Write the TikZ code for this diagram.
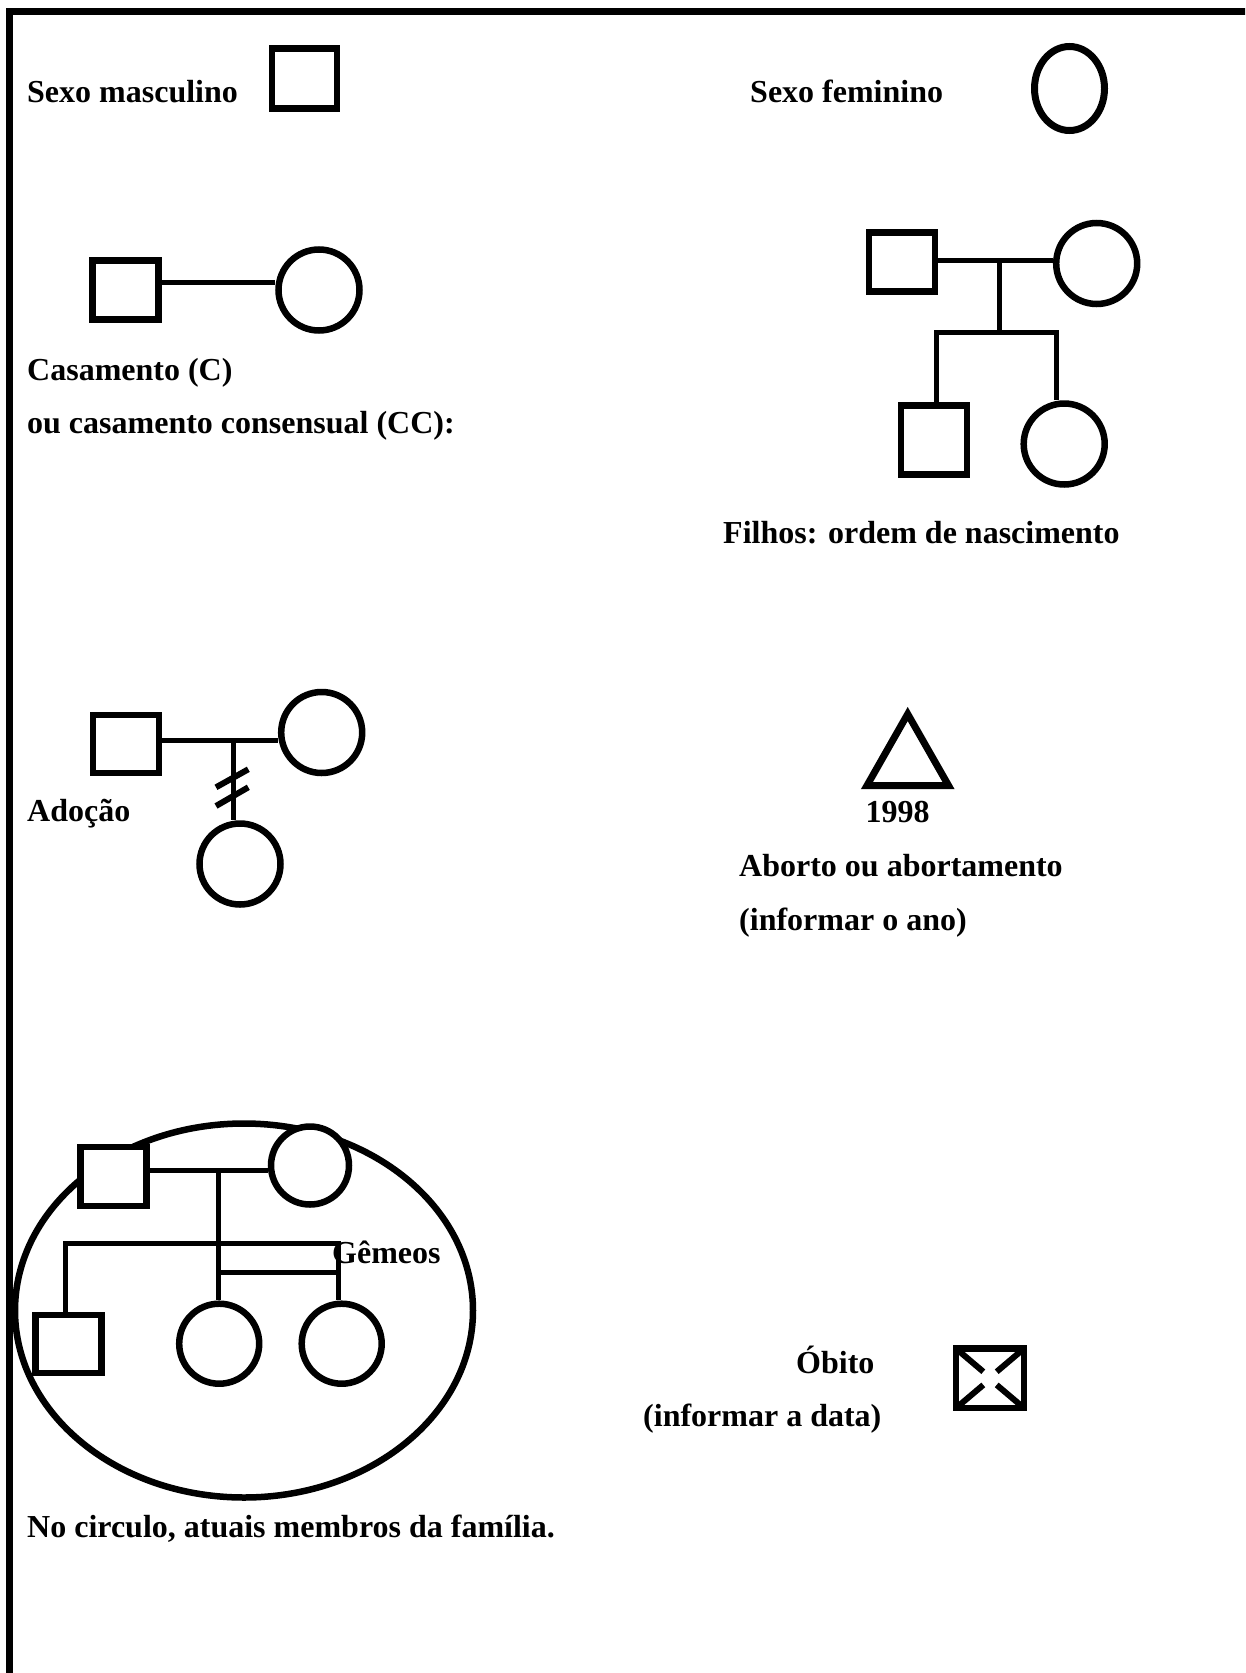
\documentclass[tikz,border=0pt]{standalone}
\usepackage{fontspec}
\setmainfont{Liberation Serif}
\usetikzlibrary{shapes.geometric}
\begin{document}
\begin{tikzpicture}[x=1pt,y=-1pt,
  shp/.style={draw=black, fill=white, line width=6.5pt, inner sep=0pt},
  male/.style={shp, rectangle, minimum width=66pt, minimum height=59pt},
  female/.style={shp, circle, minimum size=80pt},
  conn/.style={draw=black, line width=5pt},
  lbl/.style={inner sep=0pt, anchor=base west, font=\fontsize{32}{38}\selectfont\bfseries},
]
\useasboundingbox (0,0) rectangle (1245,1673);
\fill[white] (0,0) rectangle (1245,1673);
\clip (0,0) rectangle (1245,1673);
% page frame (top and left only)
\draw[line width=7pt] (9.5,1690) -- (9.5,11.5) -- (1260,11.5);

% --- Sexo masculino / feminino
\node[lbl] (tmasc) at (27,102) {Sexo masculino};
\node[male, minimum width=65pt, minimum height=60pt] (m1) at (304.5,78.5) {};
\node[lbl] (tfem) at (750,102) {Sexo feminino};
\node[shp, ellipse, line width=7pt, minimum width=70pt, minimum height=84pt] (f1) at (1069.5,88.5) {};

% --- Casamento
\node[male] (c1m) at (125.5,290) {};
\node[female, minimum size=81pt] (c1f) at (319,290) {};
\draw[conn] ([yshift=8pt]c1m.east) -- ([yshift=8pt]c1m.east -| c1f.west);
\node[lbl] (tcas1) at (27,380) {Casamento (C)};
\node[lbl] (tcas2) at (27,433) {ou casamento consensual (CC):};

% --- Filhos
\node[male] (fa) at (902,262) {};
\node[female, minimum size=81pt] (mo) at (1096.7,263.5) {};
\node[male, minimum height=69pt] (so) at (934,440) {};
\node[female, minimum size=81pt] (da) at (1064.2,444) {};
\draw[conn] ([yshift=2pt]fa.east) -- ([yshift=2pt]fa.east -| mo.west);
\coordinate (fj) at (999.3,260);
\coordinate (fs) at (999.3,332.3);
\draw[conn] (fj) -- (fs);
\draw[conn] ([xshift=2.7pt]so.north) |- (fs) -| ([xshift=-7.5pt]da.north);
\node[lbl] (tfil) at (723,543) {Filhos: ordem de nascimento};

% --- Adocao
\node[male, minimum height=58pt] (am) at (126,744.2) {};
\node[female, minimum size=81pt] (af) at (321.7,732.5) {};
\node[female, minimum size=81pt] (ac) at (240,864) {};
\draw[conn] ([yshift=4pt]am.east) -- ([yshift=4pt]am.east -| af.west);
\coordinate (aj) at (233.3,740);
\draw[conn] (aj) -- (aj |- ac.north);
\draw[line width=6pt] (216,787.3) -- (248.3,769.3);
\draw[line width=6pt] (216,806) -- (248.3,787.3);
\node[lbl] (tado) at (27,821) {Adoção};

% --- Aborto
\draw[line width=7pt, line join=miter] (907.7,714) -- (867,785.5) -- (948.5,785.5) -- cycle;
\node[lbl, anchor=base] (tano) at (897.5,822) {1998};
\node[lbl] (tab1) at (739,876) {Aborto ou abortamento};
\node[lbl] (tab2) at (739,930) {(informar o ano)};

% --- Familia atual
\draw[line width=6.5pt] (244,1310.5) ellipse [x radius=229, y radius=187];
\node[male, minimum height=59pt] (fa3) at (113.7,1176.3) {};
\node[female, minimum size=78pt] (mo3) at (310,1165.5) {};
\node[male, minimum height=58pt] (so3) at (68.3,1344.2) {};
\node[female] (tw1) at (219.2,1343.7) {};
\node[female] (tw2) at (341.7,1343.7) {};
\draw[conn] ([yshift=6.3pt]fa3.east) -- ([yshift=6.3pt]fa3.east -| mo3.west);
\coordinate (j3) at (218.5,1170);
\draw[conn] (j3) -- (j3 |- tw1.north);
\coordinate (sibL) at (65,1243.3);
\coordinate (sibR) at (338.3,1243.3);
\draw[conn] (so3.north -| sibL) -- (sibL) -- (sibR) -- (sibR |- tw2.north);
\coordinate (twL) at (218.5,1272.7);
\draw[conn] (twL) -- (twL -| sibR);
\node[lbl] (tgem) at (332,1263) {Gêmeos};
\node[lbl] (tcirc) at (27,1537) {No circulo, atuais membros da família.};

% --- Obito
\node[male, minimum width=68pt, minimum height=59.5pt] (ob) at (990,1378.3) {};
\draw[line width=6pt] ([xshift=3.25pt,yshift=-3.25pt]ob.north west) -- ([xshift=-6.7pt,yshift=6.6pt]ob.center);
\draw[line width=6pt] ([xshift=3.25pt,yshift=3.25pt]ob.south west) -- ([xshift=-6.7pt,yshift=-6.6pt]ob.center);
\draw[line width=6pt] ([xshift=-3.25pt,yshift=-3.25pt]ob.north east) -- ([xshift=6.7pt,yshift=6.6pt]ob.center);
\draw[line width=6pt] ([xshift=-3.25pt,yshift=3.25pt]ob.south east) -- ([xshift=6.7pt,yshift=-6.6pt]ob.center);
\node[lbl] (tob1) at (796,1373) {Óbito};
\node[lbl] (tob2) at (643,1426) {(informar a data)};
\end{tikzpicture}
\end{document}
